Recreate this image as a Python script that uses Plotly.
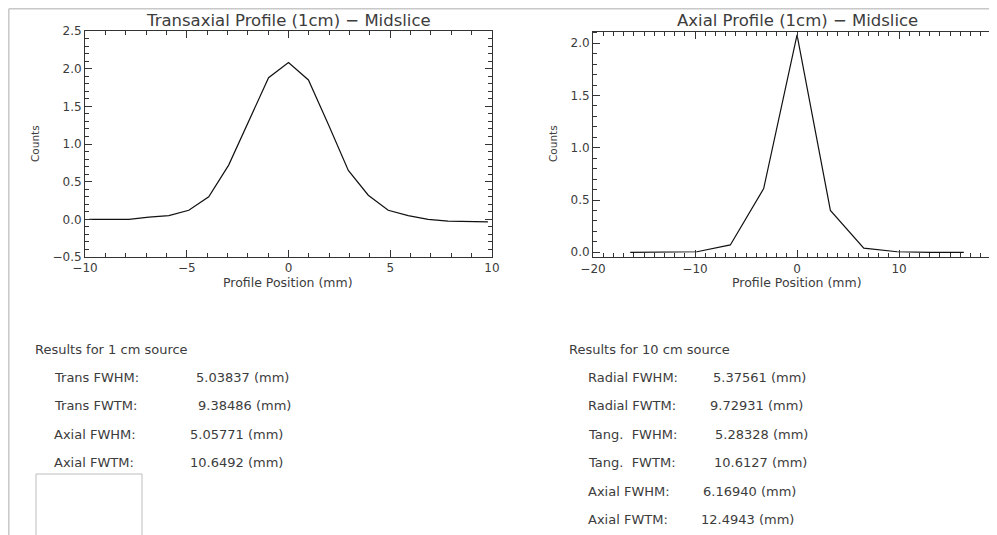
import plotly.graph_objects as go

# The page body keeps its default 8 px margin, so the figure is drawn
# 8 px in from the window's top-left corner; positions below are given in
# window pixels and converted.
OFF = 8
W, H = 997 - OFF, 535 - OFF

# ---------------- data ----------------
trans_x = [-9.8, -8.82, -7.84, -6.86, -5.88, -4.9, -3.92, -2.94, -1.96, -0.98, 0.0,
           0.98, 1.96, 2.94, 3.92, 4.9, 5.88, 6.86, 7.84, 8.82, 9.8]
trans_counts = [0.0, 0.0, 0.0, 0.03, 0.05, 0.12, 0.30, 0.72, 1.30, 1.88, 2.08,
                1.85, 1.26, 0.65, 0.32, 0.12, 0.05, 0.0, -0.025, -0.035, -0.035]

axial_x = [-16.35, -13.08, -9.81, -6.54, -3.27, 0.0, 3.27, 6.54, 9.81, 13.08, 16.35]
axial_counts = [0.0, 0.0, 0.005, 0.07, 0.61, 2.08, 0.40, 0.04, 0.005, 0.0, 0.0]

left_header = "Results for 1 cm source"
left_labels = ["Trans FWHM:", "Trans FWTM:", "Axial FWHM:", "Axial FWTM:"]
left_values = ["5.03837 (mm)", "9.38486 (mm)", "5.05771 (mm)", "10.6492 (mm)"]

right_header = "Results for 10 cm source"
right_labels = ["Radial FWHM:", "Radial FWTM:", "Tang.  FWHM:", "Tang.  FWTM:",
                "Axial FWHM:", "Axial FWTM:"]
right_values = ["5.37561 (mm)", "9.72931 (mm)", "5.28328 (mm)", "10.6127 (mm)",
                "6.16940 (mm)", "12.4943 (mm)"]

left_title = "Transaxial Profile (1cm) \u2212 Midslice"
right_title = "Axial Profile (1cm) \u2212 Midslice"
x_title = "Profile Position (mm)"
y_title = "Counts"

# ---------------- layout constants (window pixels) ----------------
left_val_x = [194, 196, 188, 188]
right_val_x = [711, 708, 713, 712, 701, 699]

FONT = "DejaVu Sans"
TXT = "#3c3c3c"
AX = "#333333"


def fx(x):
    return (x - OFF) / W


def fy(y):
    return 1 - (y - OFF) / H


def px(x, y):
    return fx(x), fy(y)


fig = go.Figure()
fig.add_trace(go.Scatter(x=trans_x, y=trans_counts, mode="lines",
                         line=dict(color="#111111", width=1.2),
                         xaxis="x", yaxis="y", showlegend=False, hoverinfo="skip"))
fig.add_trace(go.Scatter(x=axial_x, y=axial_counts, mode="lines",
                         line=dict(color="#111111", width=1.2),
                         xaxis="x2", yaxis="y2", showlegend=False, hoverinfo="skip"))

axis_common = dict(showgrid=False, zeroline=False, showline=True, linecolor=AX,
                   linewidth=1, ticks="inside", tickcolor=AX, ticklen=7,
                   tickwidth=1, automargin=False,
                   tickfont=dict(family=FONT, size=12, color=TXT))

fig.update_layout(
    template="none",
    width=W, height=H, margin=dict(l=0, r=0, t=0, b=0, pad=0), autosize=False,
    paper_bgcolor="white", plot_bgcolor="white",
    xaxis=dict(domain=[fx(85), fx(492)], range=[-10, 10], tickvals=[-10, -5, 0, 5, 10],
               mirror="ticks", anchor="y",
               minor=dict(ticks="inside", dtick=1, ticklen=4, tickcolor=AX),
               **axis_common),
    yaxis=dict(domain=[fy(257), fy(31)], range=[-0.5, 2.5],
               tickvals=[-0.5, 0, 0.5, 1.0, 1.5, 2.0, 2.5], tickformat=".1f",
               mirror="ticks", anchor="x",
               minor=dict(ticks="inside", dtick=0.1, ticklen=4, tickcolor=AX),
               **axis_common),
    xaxis2=dict(domain=[fx(593), 1.0], range=[-20, 19.6], tickvals=[-20, -10, 0, 10],
                mirror="ticks", anchor="y2",
                minor=dict(ticks="inside", dtick=1, ticklen=4, tickcolor=AX),
                **axis_common),
    yaxis2=dict(domain=[fy(257.3), fy(31.7)], range=[-0.048, 2.11],
                tickvals=[0, 0.5, 1.0, 1.5, 2.0], tickformat=".1f",
                mirror="ticks", anchor="x2",
                minor=dict(ticks="inside", dtick=0.1, ticklen=4, tickcolor=AX),
                **axis_common),
)

ann = []


def add_text(text, x, y, size=13, xanchor="left", angle=0):
    ax, ay = px(x, y)
    ann.append(dict(text=text, x=ax, y=ay, xref="paper", yref="paper",
                    xanchor=xanchor, yanchor="middle", showarrow=False,
                    textangle=angle, font=dict(family=FONT, size=size, color=TXT)))


# titles and axis titles
add_text(left_title, 288, 21, size=16.5, xanchor="center")
add_text(right_title, 797, 21, size=16.5, xanchor="center")
add_text(x_title, 288, 282, size=12.5, xanchor="center")
add_text(x_title, 797, 282, size=12.5, xanchor="center")
add_text(y_title, 35, 144, size=10.5, xanchor="center", angle=-90)
add_text(y_title, 553, 144, size=10.5, xanchor="center", angle=-90)
# clipped tick label at the right edge
add_text("20", 1001, 269, size=12, xanchor="center")

# results blocks
add_text(left_header, 33, 349)
for i, (lab, val) in enumerate(zip(left_labels, left_values)):
    y = 377 + i * 28.5
    add_text(lab, 52, y)
    add_text(val, left_val_x[i], y)

add_text(right_header, 567, 349)
for i, (lab, val) in enumerate(zip(right_labels, right_values)):
    y = 377 + i * 28.5
    add_text(lab, 586, y)
    add_text(val, right_val_x[i], y)

fig.update_layout(annotations=ann)

# frame lines and empty box
shapes = []
lx, ty = px(8.8, 8.8)
shapes.append(dict(type="line", xref="paper", yref="paper", x0=lx, y0=ty, x1=1.0, y1=ty,
                   line=dict(color="#c8c8c8", width=1.5)))
shapes.append(dict(type="line", xref="paper", yref="paper", x0=lx, y0=ty, x1=lx, y1=0,
                   line=dict(color="#c8c8c8", width=1.5)))
bx0, by0 = px(36, 474)
bx1, by1 = px(142, 545)
shapes.append(dict(type="rect", xref="paper", yref="paper", x0=bx0, y0=by0, x1=bx1, y1=by1,
                   line=dict(color="#bdbdbd", width=1)))
fig.update_layout(shapes=shapes)

fig.write_html("out.html")
